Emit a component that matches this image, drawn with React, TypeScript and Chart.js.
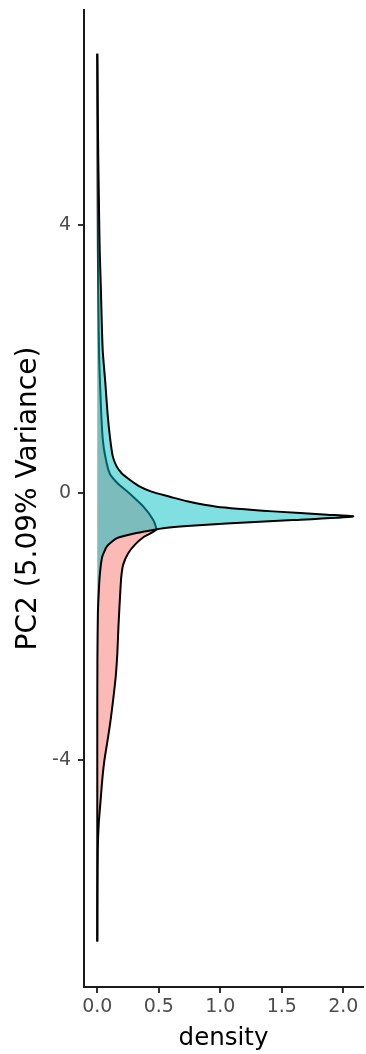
import React, { useEffect, useRef } from "react";
import { Chart, registerables } from "chart.js";

Chart.register(...registerables);

// Group shown in cyan (drawn on top)
const pc2Cyan = [6.56, 6.2, 5.5, 5.0, 4.5, 4.0, 3.6, 3.0, 2.5, 2.1, 1.65, 1.15, 0.8, 0.55, 0.4, 0.29, 0.19, 0.09, 0.015, -0.06, -0.13, -0.21, -0.28, -0.33, -0.355, -0.41, -0.46, -0.5, -0.53, -0.56, -0.61, -0.68, -0.8, -0.96, -1.2, -1.45, -1.8, -2.5, -3.5, -5.0, -6.71];
const densityCyan = [0, 0.002, 0.005, 0.008, 0.012, 0.016, 0.02, 0.03, 0.037, 0.045, 0.065, 0.085, 0.105, 0.125, 0.155, 0.198, 0.266, 0.347, 0.44, 0.59, 0.73, 0.97, 1.43, 1.87, 2.08, 1.59, 1.05, 0.73, 0.55, 0.45, 0.3, 0.16, 0.08, 0.04, 0.022, 0.013, 0.005, 0.001, 0, 0, 0];

// Group shown in salmon (drawn underneath)
const pc2Pink = [6.56, 5.0, 3.6, 3.0, 2.1, 1.65, 1.15, 0.79, 0.54, 0.29, 0.14, -0.01, -0.21, -0.41, -0.55, -0.6, -0.66, -0.77, -0.91, -1.08, -1.26, -1.45, -2.0, -2.4, -2.75, -3.0, -3.35, -3.63, -4.0, -4.3, -4.6, -4.94, -5.34, -6.0, -6.71];
const densityPink = [0, 0.002, 0.005, 0.008, 0.014, 0.022, 0.033, 0.045, 0.065, 0.1, 0.165, 0.26, 0.375, 0.455, 0.48, 0.44, 0.38, 0.31, 0.25, 0.21, 0.195, 0.188, 0.172, 0.163, 0.15, 0.135, 0.112, 0.09, 0.058, 0.04, 0.027, 0.012, 0.004, 0.001, 0];

const xTickValues = [0, 0.5, 1.0, 1.5, 2.0];
const yTickValues = [-4, 0, 4];
const xTitle = "density";
const yTitle = "PC2 (5.09% Variance)";

export default function App() {
  const ref = useRef<HTMLCanvasElement | null>(null);

  useEffect(() => {
    if (!ref.current) return;
    const toPoints = (ys: number[], xs: number[]) => ys.map((y, i) => ({ x: xs[i], y }));
    const tickFont = { family: "DejaVu Sans", size: 19 };
    const chart = new Chart(ref.current, {
      type: "line",
      data: {
        datasets: [
          {
            label: "cyan",
            data: toPoints(pc2Cyan, densityCyan),
            backgroundColor: "rgba(0,191,196,0.5)",
            borderColor: "#000000",
            borderWidth: 2,
            fill: "origin",
            pointRadius: 0,
            tension: 0.2,
            order: 0,
          },
          {
            label: "pink",
            data: toPoints(pc2Pink, densityPink),
            backgroundColor: "rgba(248,118,109,0.5)",
            borderColor: "#000000",
            borderWidth: 2,
            fill: "origin",
            pointRadius: 0,
            tension: 0.2,
            order: 1,
          },
        ],
      },
      options: {
        indexAxis: "y",
        animation: false,
        responsive: false,
        events: [],
        layout: { padding: { top: 10, right: 3, left: 0, bottom: 0 } },
        plugins: { legend: { display: false }, tooltip: { enabled: false } },
        scales: {
          x: {
            type: "linear",
            position: "bottom",
            min: -0.108,
            max: 2.16,
            afterFit: (s: any) => {
              s.height = 67;
              s.paddingLeft = 0;
              s.paddingRight = 0;
            },
            afterBuildTicks: (s: any) => {
              s.ticks = xTickValues.map((v) => ({ value: v }));
            },
            grid: { display: true, drawOnChartArea: false, drawTicks: true, tickLength: 6, color: "#333333", lineWidth: 2 },
            border: { display: true, color: "#1a1a1a", width: 2 },
            ticks: {
              color: "#4d4d4d",
              font: tickFont,
              padding: 3,
              maxRotation: 0,
              callback: (v: any) => Number(v).toFixed(1),
            },
            title: {
              display: true,
              text: xTitle,
              color: "#000000",
              font: { family: "DejaVu Sans", size: 24.5 },
              padding: { top: 0, bottom: 1 },
            },
          },
          y: {
            type: "linear",
            position: "left",
            min: -7.39,
            max: 7.215,
            afterFit: (s: any) => {
              s.width = 84;
              s.paddingTop = 0;
              s.paddingBottom = 0;
            },
            afterBuildTicks: (s: any) => {
              s.ticks = yTickValues.map((v) => ({ value: v }));
            },
            grid: { display: true, drawOnChartArea: false, drawTicks: true, tickLength: 6, color: "#333333", lineWidth: 2 },
            border: { display: true, color: "#1a1a1a", width: 2 },
            ticks: {
              color: "#4d4d4d",
              font: tickFont,
              padding: 7,
              callback: (v: any) => String(v),
            },
            title: {
              display: true,
              text: yTitle,
              color: "#000000",
              font: { family: "DejaVu Sans", size: 28 },
              padding: { top: 12, bottom: 0 },
            },
          },
        },
      },
    } as any);
    return () => chart.destroy();
  }, []);

  return (
    <div style={{ position: "fixed", left: 0, top: 0, width: 366, height: 1054, background: "#ffffff" }}>
      <canvas ref={ref} width={366} height={1054} style={{ display: "block" }} />
    </div>
  );
}
